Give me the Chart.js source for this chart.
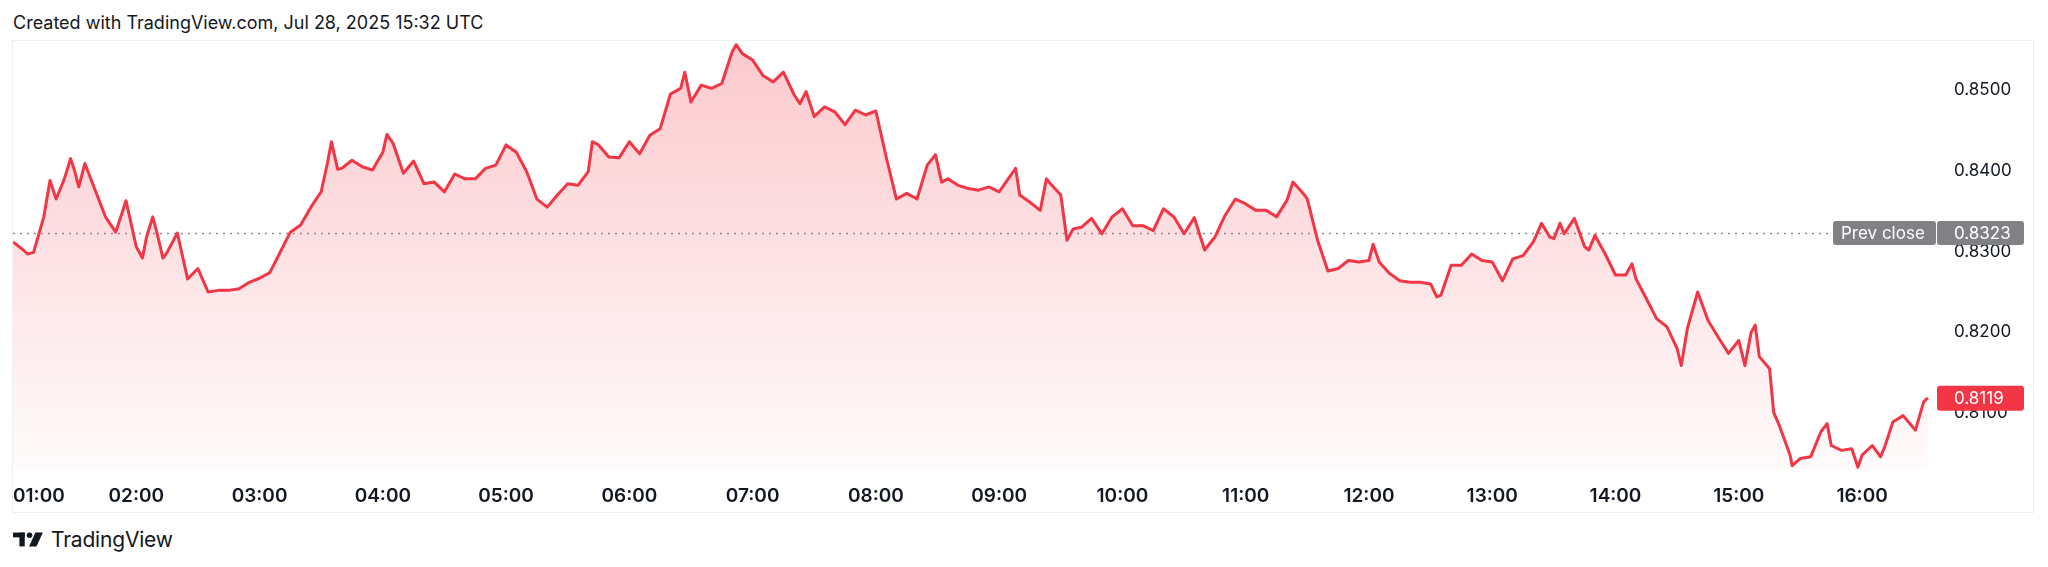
<!DOCTYPE html>
<html lang="en">
<head>
  <meta charset="UTF-8" />
  <title>TradingView line</title>
  <script src="https://cdn.jsdelivr.net/npm/chart.js"></script>
  <style>
    html, body {
      margin: 0;
      padding: 0;
      background: #fff;
    }
    body {
      width: 2048px;
      height: 567px;
      position: relative;
      overflow: hidden;
      font-family: Inter, "Noto Sans", sans-serif;
      color: #131722;
    }
    .header {
      position: absolute;
      left: 13px;
      top: 12px;
      font-size: 18px;
      line-height: 22px;
    }
    .frame {
      position: absolute;
      left: 12px;
      top: 40px;
      width: 2020px;
      height: 471px;
      border: 1px solid #eef0f3;
    }
    .footer {
      position: absolute;
      left: 13px;
      top: 527px;
      height: 24px;
      display: flex;
      align-items: center;
      font-size: 21px;
      letter-spacing: -0.2px;
    }
    .footer svg {
      margin-right: 6px;
    }
  </style>
</head>
<body>
  <div class="header">Created with TradingView.com, Jul 28, 2025 15:32 UTC</div>
  <div class="frame">
    <canvas id="priceChart" width="2020" height="471"></canvas>
  </div>
  <div class="footer">
    <svg width="32" height="17" viewBox="0 0 30 15">
      <rect x="0" y="1" width="11" height="4.5" fill="#131722" />
      <rect x="6" y="1" width="5" height="13" fill="#131722" />
      <circle cx="15.5" cy="3.5" r="2.6" fill="#131722" />
      <polygon points="21,1 28,1 22,14 15,14" fill="#131722" />
    </svg>
    <span>TradingView</span>
  </div>

  <script>
    // minutes after 01:00, 1 pt roughly every 5 min plus the visible spikes
    const minutes = [
      0, 5, 7, 10, 15, 18, 21, 25, 28, 30,
      32, 35, 40, 45, 50, 55, 60, 63, 65, 68,
      70, 73, 75, 80, 85, 90, 95, 100, 105, 110,
      115, 120, 125, 130, 135, 140, 145, 150, 153, 155,
      158, 160, 165, 170, 175, 180, 182, 185, 190, 195,
      200, 205, 210, 215, 220, 225, 230, 235, 240, 245,
      250, 255, 260, 265, 270, 275, 280, 282, 285, 290,
      295, 300, 305, 310, 315, 320, 325, 327, 330, 335,
      340, 345, 350, 352, 355, 360, 365, 370, 375, 380,
      383, 386, 390, 395, 400, 405, 410, 415, 420, 425,
      430, 435, 440, 445, 449, 452, 455, 460, 465, 470,
      475, 480, 485, 488, 490, 495, 500, 503, 505, 510,
      513, 516, 520, 525, 530, 535, 540, 545, 550, 555,
      560, 565, 570, 575, 580, 585, 590, 595, 600, 605,
      610, 615, 620, 623, 628, 630, 635, 640, 645, 650,
      655, 660, 662, 665, 670, 675, 680, 685, 690, 693,
      695, 700, 705, 710, 715, 720, 725, 730, 735, 740,
      744, 748, 750, 753, 755, 760, 765, 767, 770, 775,
      780, 785, 788, 790, 795, 800, 805, 810, 812, 815,
      820, 825, 830, 835, 840, 843, 846, 848, 850, 855,
      857, 860, 865, 866, 870, 875, 880, 883, 885, 890,
      895, 898, 900, 905, 909, 911, 915, 920, 926, 930,
      932
    ];
    const prices = [
      0.8312, 0.8302, 0.8297, 0.8299, 0.8343, 0.8388, 0.8365, 0.8390, 0.8415, 0.8400,
      0.8380, 0.8409, 0.8376, 0.8343, 0.8324, 0.8363, 0.8306, 0.8292, 0.8318, 0.8343,
      0.8324, 0.8292, 0.8299, 0.8323, 0.8266, 0.8279, 0.8250, 0.8252, 0.8252, 0.8254,
      0.8262, 0.8267, 0.8274, 0.8299, 0.8324, 0.8333, 0.8355, 0.8374, 0.8409, 0.8436,
      0.8402, 0.8403, 0.8413, 0.8405, 0.8401, 0.8423, 0.8445, 0.8434, 0.8397, 0.8412,
      0.8384, 0.8386, 0.8374, 0.8396, 0.8390, 0.8390, 0.8403, 0.8407, 0.8432, 0.8423,
      0.8399, 0.8365, 0.8355, 0.8370, 0.8384, 0.8382, 0.8399, 0.8436, 0.8432, 0.8417,
      0.8416, 0.8436, 0.8421, 0.8444, 0.8452, 0.8495, 0.8502, 0.8522, 0.8485, 0.8506,
      0.8502, 0.8508, 0.8547, 0.8556, 0.8545, 0.8537, 0.8518, 0.8510, 0.8522, 0.8495,
      0.8483, 0.8498, 0.8467, 0.8479, 0.8473, 0.8457, 0.8475, 0.8469, 0.8474, 0.8417,
      0.8365, 0.8372, 0.8365, 0.8407, 0.8420, 0.8386, 0.8390, 0.8382, 0.8378, 0.8376,
      0.8380, 0.8374, 0.8392, 0.8403, 0.8370, 0.8361, 0.8351, 0.8390, 0.8384, 0.8370,
      0.8314, 0.8328, 0.8330, 0.8341, 0.8322, 0.8343, 0.8353, 0.8332, 0.8332, 0.8326,
      0.8353, 0.8343, 0.8322, 0.8342, 0.8302, 0.8318, 0.8345, 0.8365, 0.8359, 0.8351,
      0.8351, 0.8343, 0.8363, 0.8386, 0.8372, 0.8365, 0.8314, 0.8276, 0.8279, 0.8289,
      0.8287, 0.8289, 0.8309, 0.8287, 0.8273, 0.8264, 0.8262, 0.8262, 0.8260, 0.8244,
      0.8246, 0.8283, 0.8283, 0.8297, 0.8289, 0.8287, 0.8264, 0.8291, 0.8295, 0.8312,
      0.8335, 0.8318, 0.8316, 0.8335, 0.8322, 0.8341, 0.8306, 0.8302, 0.8320, 0.8297,
      0.8271, 0.8271, 0.8285, 0.8266, 0.8242, 0.8217, 0.8207, 0.8180, 0.8159, 0.8205,
      0.8250, 0.8215, 0.8194, 0.8174, 0.8190, 0.8159, 0.8200, 0.8209, 0.8170, 0.8155,
      0.8101, 0.8083, 0.8048, 0.8035, 0.8044, 0.8046, 0.8077, 0.8087, 0.8060, 0.8054,
      0.8056, 0.8033, 0.8048, 0.8060, 0.8046, 0.8058, 0.8089, 0.8097, 0.8079, 0.8114,
      0.8119
    ];
    const hourLabels = ['01:00', '02:00', '03:00', '04:00', '05:00', '06:00', '07:00', '08:00',
                        '09:00', '10:00', '11:00', '12:00', '13:00', '14:00', '15:00', '16:00'];
    const priceTicks = [0.81, 0.82, 0.83, 0.84, 0.85];
    const prevClose = 0.8323;
    const lastPrice = 0.8119;

    const RED = '#f23645';
    const FONT = 'Inter, "Noto Sans", sans-serif';

    function roundRect(ctx, x, y, w, h, r) {
      ctx.beginPath();
      ctx.moveTo(x + r, y);
      ctx.lineTo(x + w - r, y);
      ctx.quadraticCurveTo(x + w, y, x + w, y + r);
      ctx.lineTo(x + w, y + h - r);
      ctx.quadraticCurveTo(x + w, y + h, x + w - r, y + h);
      ctx.lineTo(x + r, y + h);
      ctx.quadraticCurveTo(x, y + h, x, y + h - r);
      ctx.lineTo(x, y + r);
      ctx.quadraticCurveTo(x, y, x + r, y);
      ctx.closePath();
    }

    // prev close dotted line + the two price-scale badges
    const priceMarkers = {
      id: 'priceMarkers',
      beforeDatasetsDraw(chart) {
        const { ctx, chartArea, scales } = chart;
        const yp = Math.round(scales.y.getPixelForValue(prevClose)) + 0.5;
        ctx.save();
        ctx.strokeStyle = '#8c8f98';
        ctx.lineWidth = 1.5;
        ctx.setLineDash([2, 5]);
        ctx.beginPath();
        ctx.moveTo(chartArea.left, yp);
        ctx.lineTo(chartArea.right - 104, yp);
        ctx.stroke();
        ctx.restore();
      },
      afterDraw(chart) {
        const { ctx, chartArea, scales } = chart;
        const right = chartArea.right;
        const yp = scales.y.getPixelForValue(prevClose);
        const yl = scales.y.getPixelForValue(lastPrice);
        ctx.save();
        ctx.font = '17px ' + FONT;
        ctx.textBaseline = 'middle';
        ctx.textAlign = 'left';

        ctx.fillStyle = '#808184';
        roundRect(ctx, right - 103, yp - 12, 103, 24, 3);
        ctx.fill();
        roundRect(ctx, right + 1, yp - 12, 87, 24, 3);
        ctx.fill();
        ctx.fillStyle = '#fff';
        ctx.fillText('Prev close', right - 95, yp + 1);
        ctx.fillText(prevClose.toFixed(4), right + 18, yp + 1);

        ctx.fillStyle = RED;
        roundRect(ctx, right + 1, yl - 12, 87, 25, 3);
        ctx.fill();
        ctx.fillStyle = '#fff';
        ctx.fillText(lastPrice.toFixed(4), right + 18, yl + 1);
        ctx.restore();
      }
    };

    const ctx = document.getElementById('priceChart').getContext('2d');
    new Chart(ctx, {
      type: 'line',
      data: {
        datasets: [{
          data: minutes.map((m, i) => ({ x: m, y: prices[i] })),
          borderColor: RED,
          borderWidth: 3,
          borderJoinStyle: 'round',
          pointRadius: 0,
          tension: 0,
          fill: 'start',
          backgroundColor(context) {
            const { ctx, chartArea } = context.chart;
            if (!chartArea) return 'rgba(242,54,69,0.15)';
            const g = ctx.createLinearGradient(0, chartArea.top, 0, chartArea.bottom);
            g.addColorStop(0, 'rgba(242,54,69,0.27)');
            g.addColorStop(1, 'rgba(242,54,69,0.02)');
            return g;
          }
        }]
      },
      options: {
        responsive: false,
        animation: false,
        layout: { padding: 0 },
        plugins: {
          legend: { display: false },
          tooltip: { enabled: false }
        },
        scales: {
          x: {
            type: 'linear',
            min: 0,
            max: 936,
            grid: { display: false, drawTicks: false },
            border: { display: false },
            afterBuildTicks(scale) {
              const t = hourLabels.map((_, i) => ({ value: i * 60 }));
              t.push({ value: 936 });
              scale.ticks = t;
            },
            afterFit(scale) {
              scale.height = 42;
              scale.paddingLeft = 0;
              scale.paddingRight = 0;
            },
            ticks: {
              autoSkip: false,
              maxRotation: 0,
              align: 'inner',
              padding: 15,
              color: '#131722',
              font: { family: FONT, size: 19, weight: '600' },
              callback: (v) => (v % 60 === 0 ? hourLabels[v / 60] : '')
            }
          },
          y: {
            position: 'right',
            min: 0.80297,
            max: 0.85606,
            grid: { display: false, drawTicks: false },
            border: { display: false },
            afterBuildTicks(scale) {
              scale.ticks = priceTicks.map(v => ({ value: v }));
            },
            afterFit(scale) {
              scale.width = 97;
              scale.paddingTop = 0;
              scale.paddingBottom = 0;
            },
            ticks: {
              padding: 18,
              color: '#131722',
              font: { family: FONT, size: 17 },
              callback: (v) => v.toFixed(4)
            }
          }
        }
      },
      plugins: [priceMarkers]
    });
  </script>
</body>
</html>
